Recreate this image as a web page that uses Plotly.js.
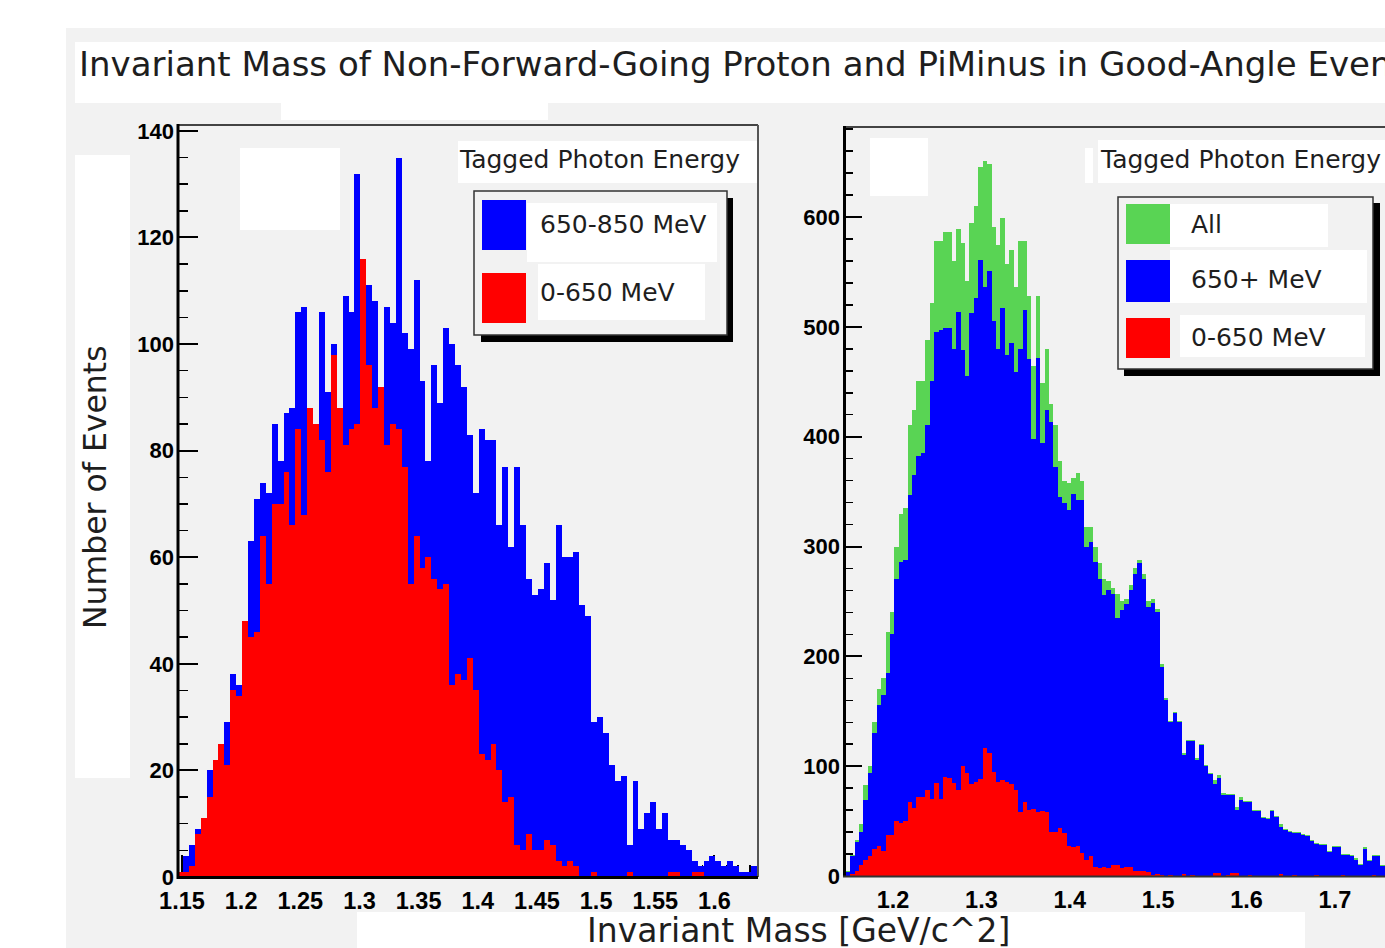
<!DOCTYPE html>
<html><head><meta charset="utf-8">
<script src="https://cdn.plot.ly/plotly-3.0.1.min.js"></script>
<style>
html,body{margin:0;padding:0;overflow:hidden;background:#fff;width:1385px;height:948px}
#chart{width:1420px;height:948px}
</style>
</head><body><div id="chart"></div>
<script>
// ---- binning ----
const binWidth = 0.005;
const leftBinStart = 1.1458;
const rightBinStart = 1.1465;

// ---- left panel: counts per bin ----
const leftHigh = [1,4,6,9,11,20,22,25,29,38, 36,46,63,71,74,72,85,78,87,88,
  106,107,86,84,106,91,100,86,109,106, 132,110,111,108,88,107,104,135,102,99,
  112,93,78,96,89,103,100,96,92,83, 72,84,82,82,66,77,62,77,66,56,
  53,54,59,52,66,60,60,61,51,49, 29,30,27,21,18,19,6,18,9,12,
  14,9,12,7,7,6,5,3,2,3, 4,3,2,3,2,1,1,2];
const leftLow = [1,1,2,8,11,15,22,25,21,35, 34,48,45,46,64,55,70,70,76,66,
  84,68,88,85,82,76,98,88,81,84, 85,116,96,88,92,81,85,84,77,55,
  64,58,60,56,54,55,36,38,37,41, 35,23,22,25,20,14,15,6,5,8,
  5,5,7,6,3,2,3,2,0,0, 1,0,0,0,0,0,1,0,0,0,
  0,0,0,1,1,0,0,1,1,0, 0,0,0,0,0,0,0,0];

// ---- right panel: counts per bin ----
const rightAll = [5,19,33,47,83,100,140,170,180,222, 240,300,330,335,411,424,451,451,488,522,
  578,578,586,586,560,589,576,542,595,610, 646,651,648,591,575,599,557,570,536,578,
  578,528,464,528,449,480,430,411,378,360, 358,362,367,360,318,318,300,285,270,269,
  262,257,250,252,265,280,288,275,250,252, 243,193,162,141,149,141,112,124,124,107,
  120,101,94,87,92,76,75,75,63,72, 68,68,60,60,54,53,60,55,47,43,
  41,40,40,38,37,33,30,29,29,23, 27,27,20,20,19,16,11,26,15,19,
  19,10,16,13,11,15];
const rightHigh = [4,18,31,40,69,94,130,156,165,185, 220,270,286,288,347,365,382,385,411,451,
  495,497,499,499,480,514,479,455,513,526, 561,536,551,505,480,517,474,485,459,480,
  515,471,398,472,394,424,413,372,345,340, 333,348,342,342,300,304,286,270,256,260,
  257,235,242,248,260,275,285,270,245,249, 240,190,160,140,148,140,110,123,123,106,
  119,100,93,84,89,74,74,74,60,69, 67,67,59,59,53,52,59,54,45,42,
  40,39,39,37,36,32,29,28,28,22, 26,26,19,19,18,15,10,25,14,18,
  18,9,15,12,10,14];
const rightLow = [0,2,5,10,15,18,25,27,23,37, 37,50,48,50,67,62,72,72,78,70,
  85,70,90,89,85,78,100,94,84,86, 88,117,112,95,86,87,86,84,78,58,
  67,60,61,58,59,58,40,40,44,39, 27,26,27,21,15,18,8,7,8,7,
  10,10,7,8,8,5,5,5,4,1, 2,1,0,1,0,0,2,0,1,0,
  0,0,0,3,3,0,1,3,3,0, 0,1,0,0,0,0,0,0,2,0,
  0,1,0,0,0,0,1,0,0,0, 0,0,1,0,0,0,0,0,0,1,
  0,0,0,0,1,0];

// ---- tick labels & texts ----
const leftTickVals = [1.15,1.2,1.25,1.3,1.35,1.4,1.45,1.5,1.55,1.6];
const leftTickText = ['1.15','1.2','1.25','1.3','1.35','1.4','1.45','1.5','1.55','1.6'];
const rightTickVals = [1.2,1.3,1.4,1.5,1.6,1.7];
const rightTickText = ['1.2','1.3','1.4','1.5','1.6','1.7'];
const legendTitle = 'Tagged Photon Energy';
const leftLegend = ['650-850 MeV','0-650 MeV'];
const rightLegend = ['All','650+ MeV','0-650 MeV'];
const titleText = 'Invariant Mass of Non-Forward-Going Proton and PiMinus in Good-Angle Events';
const yTitle = 'Number of Events';
const xTitle = 'Invariant Mass [GeV/c^2]';

const BLUE = '#0000ff', RED = '#ff0000', GREEN = 'rgb(89,212,84)', PANEL = '#f2f2f2';

// ---- geometry helpers (layout only) ----
const W = 1420, H = 948;
const px = x => x / W;
const py = y => 1 - y / H;
function centers(start, n) { return Array.from({length: n}, (_, i) => start + binWidth * (i + 0.5)); }
function rect(x0, y0, x1, y1, fill, layer, line) {
  return {type:'rect', xref:'paper', yref:'paper', x0:px(x0), x1:px(x1), y0:py(y1), y1:py(y0),
    fillcolor: fill, layer: layer || 'above', line: line || {width:0}};
}
function seg(x0, y0, x1, y1, color, width) {
  return {type:'line', xref:'paper', yref:'paper', x0:px(x0), x1:px(x1), y0:py(y0), y1:py(y1),
    layer:'above', line:{color:color, width:width}};
}
function label(x, y, text, size, extra) {
  return Object.assign({xref:'paper', yref:'paper', x:px(x), y:py(y), text:text, showarrow:false,
    xanchor:'left', yanchor:'middle', font:{family:'DejaVu Sans', size:size, color:'#1e1e1e'}}, extra || {});
}

function bars(start, vals, color, xa, ya) {
  return {type:'bar', x: centers(start, vals.length), y: vals, width: binWidth,
    marker:{color: color, line:{width:0}}, xaxis: xa, yaxis: ya, hoverinfo:'x+y'};
}

const traces = [
  bars(leftBinStart, leftHigh, BLUE, 'x', 'y'),
  bars(leftBinStart, leftLow, RED, 'x', 'y'),
  bars(rightBinStart, rightAll, GREEN, 'x2', 'y2'),
  bars(rightBinStart, rightHigh, BLUE, 'x2', 'y2'),
  bars(rightBinStart, rightLow, RED, 'x2', 'y2')
];

const xTickFont = {family:'Liberation Sans', size:23.5, color:'#000', weight:'bold'};
const yTickFont = {family:'Liberation Sans', size:22, color:'#000', weight:'bold'};
const common = {showgrid:false, zeroline:false, showline:false, ticks:'inside', tickcolor:'#000',
  tickwidth:2, layer:'below traces', fixedrange:true};

const shapes = [
  rect(66, 28, W, H, PANEL, 'below'),
  rect(75, 42, W, 103, '#fff', 'below'),
  rect(281, 103, 548, 120, '#fff', 'below'),
  rect(75, 155, 130, 778, '#fff', 'below'),
  rect(240, 148, 340, 230, '#fff', 'below'),
  rect(870, 138, 928, 196, '#fff', 'below'),
  rect(357, 912, 1305, H, '#fff', 'below'),
  rect(458, 141, 757, 183, '#fff', 'below'),
  rect(1098, 140, W, 183, '#fff', 'below'),
  rect(1085, 148, 1093, 183, '#fff', 'below'),
  // frames
  seg(177, 125, 758, 125, '#444', 2),
  seg(758, 125, 758, 877, '#555', 2),
  seg(178, 124, 178, 879, '#000', 3),
  seg(177, 877.5, 758, 877.5, '#000', 3),
  seg(843, 127, W, 127, '#444', 2),
  seg(844.5, 126, 844.5, 877, '#000', 3),
  seg(843, 876.5, W, 876.5, '#333', 2),
  // left legend
  rect(481, 198, 733, 342, '#000'),
  rect(474, 191, 727, 335, PANEL, 'above', {color:'#333', width:1.5}),
  rect(527, 203, 717, 262, '#fff'),
  rect(538, 264, 705, 320, '#fff'),
  rect(482, 200, 526, 250, BLUE),
  rect(482, 273, 526, 323, RED),
  // right legend
  rect(1124, 203, 1380, 376, '#000'),
  rect(1118, 197, 1373, 369, PANEL, 'above', {color:'#333', width:1.5}),
  rect(1170, 204, 1328, 247, '#fff'),
  rect(1170, 250, 1367, 303, '#fff'),
  rect(1180, 315, 1365, 357, '#fff'),
  rect(1126, 204, 1170, 244, GREEN),
  rect(1126, 260, 1170, 302, BLUE),
  rect(1126, 318, 1170, 358, RED)
];

const annotations = [
  label(77, 64, titleText, 34),
  label(95, 487, yTitle, 31.5, {xanchor:'center', textangle:-90}),
  label(585, 930, xTitle, 33),
  label(457, 160, legendTitle, 25),
  label(538, 224, leftLegend[0], 25),
  label(538, 292, leftLegend[1], 25),
  label(1098, 160, legendTitle, 25),
  label(1189, 225, rightLegend[0], 25),
  label(1189, 280, rightLegend[1], 25),
  label(1189, 337, rightLegend[2], 25)
];

const layout = {
  width: W, height: H, margin:{l:0, r:0, t:0, b:0},
  paper_bgcolor:'#fff', plot_bgcolor:'rgba(0,0,0,0)',
  barmode:'overlay', bargap:0, showlegend:false,
  xaxis: Object.assign({}, common, {domain:[px(177), px(758)], anchor:'y', range:[1.1458, 1.6368],
    tickmode:'array', tickvals:leftTickVals, ticktext:leftTickText, ticklen:22,
    tickfont:xTickFont, ticklabelstandoff:7,
    minor:{tickmode:'linear', tick0:1.15, dtick:0.01, ticks:'inside', ticklen:12, tickwidth:1.5, tickcolor:'#000', showgrid:false}}),
  yaxis: Object.assign({}, common, {domain:[1 - 877/H, 1 - 125/H], anchor:'x', range:[0, 141.1],
    tickmode:'linear', tick0:0, dtick:20, ticklen:21, tickfont:yTickFont, ticklabelstandoff:2,
    minor:{tickmode:'linear', tick0:0, dtick:5, ticks:'inside', ticklen:11, tickwidth:1.5, tickcolor:'#000', showgrid:false}}),
  xaxis2: Object.assign({}, common, {domain:[px(843), px(1403)], anchor:'y2', range:[1.1434, 1.777],
    tickmode:'array', tickvals:rightTickVals, ticktext:rightTickText, ticklen:20,
    tickfont:xTickFont, ticklabelstandoff:7,
    minor:{tickmode:'linear', tick0:1.2, dtick:0.02, ticks:'inside', ticklen:11, tickwidth:1.5, tickcolor:'#000', showgrid:false}}),
  yaxis2: Object.assign({}, common, {domain:[1 - 876/H, 1 - 127/H], anchor:'x2', range:[0, 682],
    tickmode:'linear', tick0:0, dtick:100, ticklen:19, tickfont:yTickFont, ticklabelstandoff:2,
    minor:{tickmode:'linear', tick0:0, dtick:20, ticks:'inside', ticklen:10, tickwidth:1.5, tickcolor:'#000', showgrid:false}}),
  shapes: shapes,
  annotations: annotations
};

Plotly.newPlot('chart', traces, layout, {displayModeBar:false, staticPlot:true});
</script>
</body></html>
